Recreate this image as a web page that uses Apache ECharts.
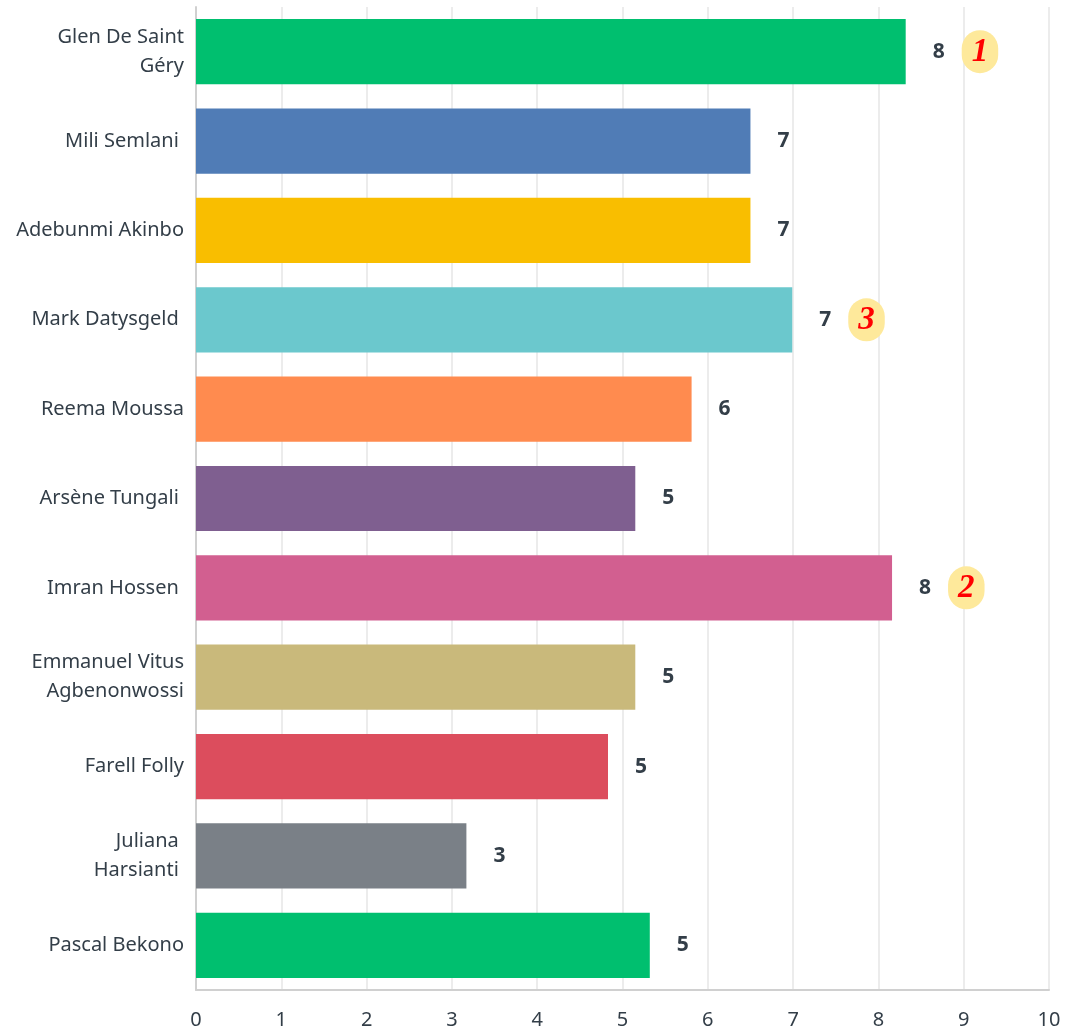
<!DOCTYPE html>
<html>
<head>
<meta charset="utf-8">
<script src="https://cdn.jsdelivr.net/npm/echarts@6/dist/echarts.min.js"></script>
<style>
  html, body { margin: 0; padding: 0; background: #fff; }
  #chart { width: 1065px; height: 1030px; }
</style>
</head>
<body>
<div id="chart"></div>
<script>
// candidate names (top to bottom)
const names = [
  "Glen De Saint\nGéry",
  "Mili Semlani ",
  "Adebunmi Akinbo",
  "Mark Datysgeld ",
  "Reema Moussa",
  "Arsène Tungali ",
  "Imran Hossen ",
  "Emmanuel Vitus\nAgbenonwossi",
  "Farell Folly",
  "Juliana \nHarsianti ",
  "Pascal Bekono",
];
// average score per candidate
const scores = [8.32, 6.5, 6.5, 6.99, 5.81, 5.15, 8.16, 5.15, 4.83, 3.17, 5.32];
// rank badges, 0 = none
const ranks = [1, 0, 0, 3, 0, 0, 2, 0, 0, 0, 0];
const colors = [
  "#00bf6f", "#507cb6", "#f9be00", "#6bc8cd", "#ff8b4f", "#7f5f90",
  "#d25f90", "#c9b97b", "#dc4d5d", "#7a8087", "#00bf6f",
];
const xTicks = [0, 10, 1]; // min, max, interval

const chart = echarts.init(document.getElementById("chart"));

chart.setOption({
  animation: false,
  grid: {
    left: 196,
    right: 16,
    top: 7,
    bottom: 40,
  },
  xAxis: {
    type: "value",
    min: xTicks[0],
    max: xTicks[1],
    interval: xTicks[2],
    axisLine: { show: true, lineStyle: { color: "#d0d0d0", width: 2 } },
    axisTick: { show: false },
    splitLine: { show: true, lineStyle: { color: "#ececec", width: 2 } },
    axisLabel: {
      color: "#333e48",
      fontSize: 20,
      fontFamily: "Noto Sans",
      margin: 20,
    },
  },
  yAxis: {
    type: "category",
    inverse: true,
    data: names,
    axisLine: { show: true, lineStyle: { color: "#d0d0d0", width: 2 } },
    axisTick: { show: false },
    axisLabel: {
      color: "#333e48",
      fontSize: 20,
      fontFamily: "Noto Sans",
      lineHeight: 29,
      margin: 12,
      align: "right",
      padding: [7, 0, 0, 0],
    },
  },
  series: [
    {
      type: "bar",
      barCategoryGap: "27%",
      data: scores.map((v, i) => ({
        value: v,
        itemStyle: { color: colors[i] },
      })),
      label: {
        show: true,
        position: "right",
        distance: 27,
        formatter: (p) => {
          const r = ranks[p.dataIndex];
          let s = "{v|" + Math.round(p.value) + "}";
          if (r) s += "{gap|}{b|" + r + "}";
          return s;
        },
        rich: {
          v: {
            color: "#333e48",
            fontSize: 21,
            fontWeight: "bold",
            fontFamily: "Noto Sans",
          },
          gap: { width: 17 },
          b: {
            color: "#ff0000",
            fontSize: 33,
            fontStyle: "italic",
            fontWeight: "bold",
            fontFamily: "Liberation Serif",
            backgroundColor: "#fee99b",
            padding: [6, 10, 4, 10],
            align: "center",
            borderRadius: 20,
          },
        },
      },
    },
  ],
});
</script>
</body>
</html>
